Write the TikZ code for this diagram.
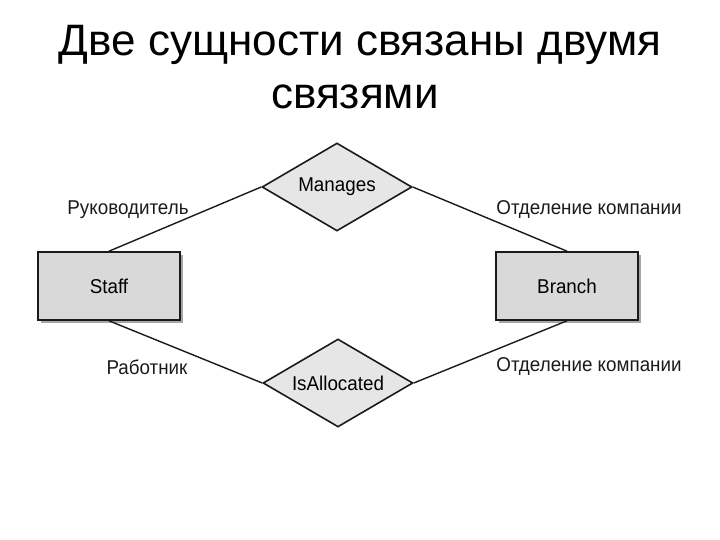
\documentclass[tikz,border=0pt]{standalone}
\usepackage{fontspec}
\setmainfont{Liberation Sans}
\newfontfamily\labelfont[FakeStretch=0.94]{Liberation Sans}
\usetikzlibrary{positioning,shapes.geometric,shadows}
\definecolor{ink}{HTML}{1A1A1A}
\definecolor{boxfill}{HTML}{D9D9D9}
\definecolor{relfill}{HTML}{E6E6E6}
\tikzset{
  entity/.style={draw=ink, line width=0.8pt, fill=boxfill, minimum width=71pt, minimum height=34pt,
    inner sep=0pt, font=\labelfont\fontsize{10}{11}\selectfont,
    drop shadow={shadow xshift=1.5pt, shadow yshift=-1.5pt, fill=gray!70, opacity=1}},
  relship/.style={diamond, aspect=1.7, draw=ink, line width=0.8pt, fill=relfill, minimum width=75pt, minimum height=44pt,
    inner sep=0pt, font=\labelfont\fontsize{10}{11}\selectfont},
  role/.style={font=\labelfont\fontsize{10}{11}\selectfont, text=ink},
  link/.style={draw=ink, line width=0.7pt}
}
\begin{document}
\begin{tikzpicture}[x=0.5pt, y=-0.5pt]
  \useasboundingbox (0,0) rectangle (720,540);
  % title
  \node[font=\fontsize{22}{25}\selectfont] (title1) at (360,45) {Две сущности связаны двумя};
  \node[font=\fontsize{22}{25}\selectfont] (title2) at (355,97) {связями};
  % entities and relationships
  \node[entity] (staff) at (109,286) {Staff};
  \node[entity] (branch) at (567,286) {Branch};
  \node[relship] (manages) at (337,187) {Manages};
  \node[relship] (alloc) at (338,383) {IsAllocated};
  % links
  \draw[link] (staff.north) -- (manages.west);
  \draw[link] (manages.east) -- (branch.north);
  \draw[link] (staff.south) -- (alloc.west);
  \draw[link] (alloc.east) -- (branch.south);
  % roles
  \node[role] (r1) at (128,210) {Руководитель};
  \node[role] (r2) at (589,210) {Отделение компании};
  \node[role] (r3) at (147,367) {Работник};
  \node[role] (r4) at (589,367) {Отделение компании};
\end{tikzpicture}
\end{document}
